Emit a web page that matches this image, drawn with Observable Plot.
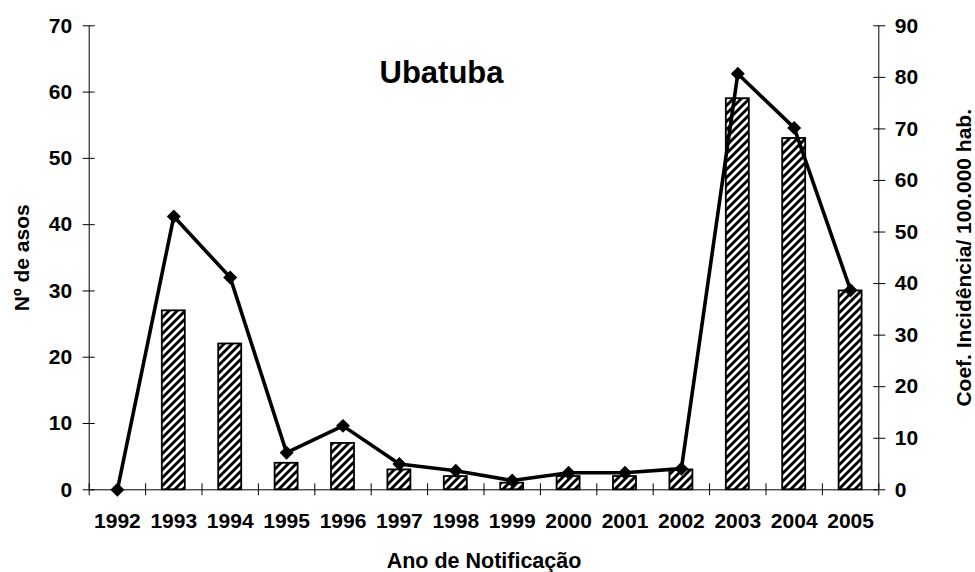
<!DOCTYPE html>
<html><head><meta charset="utf-8">
<script src="https://cdn.jsdelivr.net/npm/d3@7"></script>
<script src="https://cdn.jsdelivr.net/npm/@observablehq/plot@0.6"></script>
<style>body{margin:0;background:#fff} svg{display:block}</style>
</head><body><div id="chart"></div>
<script>
const years = [1992, 1993, 1994, 1995, 1996, 1997, 1998, 1999, 2000, 2001, 2002, 2003, 2004, 2005];
const cases = [0, 27, 22, 4, 7, 3, 2, 1, 2, 2, 3, 59, 53, 30];
const rates = [0, 53.0, 41.2, 7.2, 12.4, 5.0, 3.7, 1.8, 3.3, 3.3, 4.1, 80.7, 70.2, 38.7];
const leftTicks = [0, 10, 20, 30, 40, 50, 60, 70];
const rightTicks = [0, 10, 20, 30, 40, 50, 60, 70, 80, 90];
const title = "Ubatuba";
const xLabel = "Ano de Notificação";
const yLabelLeft = "Nº de asos";
const yLabelRight = "Coef. Incidência/ 100.000 hab.";

const ratio = 70 / 90;
const data = years.map((year, i) => ({year, cases: cases[i], rate: rates[i]}));
const bounds = years.map(y => y - 0.5).concat([years[years.length - 1] + 0.5]);

const plot = Plot.plot({
  width: 975, height: 572,
  marginLeft: 88.7, marginRight: 96.7, marginTop: 25.3, marginBottom: 82.7,
  style: {fontFamily: "'Liberation Sans', Arial, sans-serif", fontSize: "21px", fontWeight: "bold", background: "#fff", color: "#000"},
  x: {type: "linear", domain: [bounds[0], bounds[bounds.length - 1]]},
  y: {domain: [0, 70]},
  marks: [
    Plot.rectY(data.filter(d => d.cases > 0), {x1: d => d.year - 0.5, x2: d => d.year + 0.5, y: "cases", insetLeft: 16.7, insetRight: 16.7, fill: "url(#hatch)", stroke: "#000", strokeWidth: 1.8}),
    Plot.ruleX([bounds[0], bounds[bounds.length - 1]], {stroke: "#000", strokeWidth: 1}),
    Plot.ruleY([0], {stroke: "#000", strokeWidth: 1}),
    Plot.axisY({ticks: leftTicks, tickSize: 12, dx: 6, tickPadding: 11, label: null, fontSize: 21, tickFormat: d => String(d)}),
    Plot.axisY({anchor: "right", ticks: rightTicks.map(t => t * ratio), tickSize: 12, dx: -6, tickPadding: 10, label: null, fontSize: 21, tickFormat: d => String(Math.round(d / ratio))}),
    Plot.axisX({ticks: bounds, tickSize: 12, dy: -6, tickFormat: () => "", label: null}),
    Plot.axisX({ticks: years, tickSize: 0, tickPadding: 23, fontSize: 21, tickFormat: d => String(d), label: null}),
    Plot.line(data, {x: "year", y: d => d.rate * ratio, stroke: "#000", strokeWidth: 3.6}),
    Plot.dot(data, {x: "year", y: d => d.rate * ratio, symbol: "diamond2", r: 6.3, fill: "#000", stroke: "none"}),
    Plot.text([title], {text: d => d, frameAnchor: "top", dx: -42.5, dy: 47.7, lineAnchor: "middle", textAnchor: "middle", fontSize: 31, fontWeight: "bold"}),
    Plot.text([yLabelLeft], {text: d => d, frameAnchor: "left", dx: -67, rotate: -90, textAnchor: "middle", lineAnchor: "middle", fontSize: 21, fontWeight: "bold"}),
    Plot.text([yLabelRight], {text: d => d, frameAnchor: "right", dx: 85.7, rotate: -90, textAnchor: "middle", lineAnchor: "middle", fontSize: 21, fontWeight: "bold"}),
    Plot.text([xLabel], {text: d => d, frameAnchor: "bottom", dy: 71, lineAnchor: "middle", textAnchor: "middle", fontSize: 21.5, fontWeight: "bold"})
  ]
});

const ns = "http://www.w3.org/2000/svg";
const defs = document.createElementNS(ns, "defs");
const pat = document.createElementNS(ns, "pattern");
pat.setAttribute("id", "hatch");
pat.setAttribute("patternUnits", "userSpaceOnUse");
pat.setAttribute("width", "8");
pat.setAttribute("height", "8");
const bg = document.createElementNS(ns, "rect");
bg.setAttribute("width", "8"); bg.setAttribute("height", "8"); bg.setAttribute("fill", "#fff");
pat.appendChild(bg);
const hp = document.createElementNS(ns, "path");
hp.setAttribute("d", "M-2,2 L2,-2 M0,8 L8,0 M6,10 L10,6");
hp.setAttribute("stroke", "#000");
hp.setAttribute("stroke-width", "2.9");
pat.appendChild(hp);
defs.appendChild(pat);
plot.insertBefore(defs, plot.firstChild);
document.getElementById("chart").appendChild(plot);
</script>
</body></html>
